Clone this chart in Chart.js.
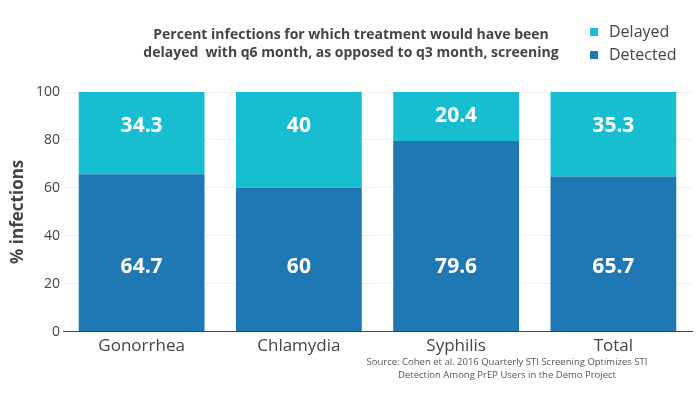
<!DOCTYPE html>
<html>
<head>
<meta charset="utf-8">
<script src="https://cdn.jsdelivr.net/npm/chart.js@4"></script>
<style>
  html, body { margin: 0; padding: 0; background: #fff; }
  #wrap { width: 700px; height: 393px; position: relative; }
</style>
</head>
<body>
<div id="wrap"><canvas id="chart" width="700" height="393"></canvas></div>
<script>
const categories = ["Gonorrhea", "Chlamydia", "Syphilis", "Total"];
// bar heights as drawn in the picture
const detected = [65.7, 60, 79.6, 64.7];
const delayed = [34.3, 40, 20.4, 35.3];
// printed numbers (the source shows these, swapped for two of the bars)
const detectedText = ["64.7", "60", "79.6", "65.7"];
const delayedText = ["34.3", "40", "20.4", "35.3"];
const yTicks = [0, 20, 40, 60, 80, 100];

const titleLines = [
  "Percent infections for which treatment would have been",
  "delayed  with q6 month, as opposed to q3 month, screening"
];
const sourceLines = [
  "Source: Cohen et al. 2016 Quarterly STI Screening Optimizes STI",
  "Detection Among PrEP Users in the Demo Project"
];

const FONT = "'Open Sans', sans-serif";

// title, legend, source note and bar labels
const extras = {
  id: 'extras',
  afterDatasetsDraw(chart) {
    const ctx = chart.ctx;
    const yScale = chart.scales.y;
    ctx.save();
    ctx.fillStyle = '#fff';
    ctx.font = "bold 21px " + FONT;
    ctx.textAlign = 'center';
    ctx.textBaseline = 'middle';
    const texts = [detectedText, delayedText];
    chart.data.datasets.forEach((ds, i) => {
      chart.getDatasetMeta(i).data.forEach((bar, j) => {
        let y;
        if (i === 0) {
          y = yScale.getPixelForValue(27);
        } else {
          const mid = (Math.max(bar.y, chart.chartArea.top) + bar.base) / 2;
          y = Math.min(mid, yScale.getPixelForValue(86));
        }
        ctx.fillText(texts[i][j], bar.x, y);
      });
    });
    ctx.restore();
  },
  afterDraw(chart) {
    const ctx = chart.ctx;
    ctx.save();
    ctx.fillStyle = '#444';
    ctx.font = "bold 14px " + FONT;
    ctx.textAlign = 'center';
    ctx.textBaseline = 'middle';
    ctx.fillText(titleLines[0], 351, 35);
    ctx.fillText(titleLines[1], 351, 53);

    // legend, top dataset first
    ctx.font = "16px " + FONT;
    ctx.textAlign = 'left';
    const order = [1, 0];
    order.forEach((di, k) => {
      const ds = chart.data.datasets[di];
      const y = 32 + k * 23;
      ctx.fillStyle = ds.backgroundColor;
      ctx.fillRect(590, y - 4, 8, 8);
      ctx.fillStyle = '#444';
      ctx.fillText(ds.label, 609, y);
    });

    ctx.font = "9.5px " + FONT;
    ctx.textAlign = 'center';
    ctx.fillStyle = '#555';
    ctx.fillText(sourceLines[0], 507, 362);
    ctx.fillText(sourceLines[1], 507, 375);
    ctx.restore();
  }
};

new Chart(document.getElementById('chart'), {
  type: 'bar',
  data: {
    labels: categories,
    datasets: [
      { label: 'Detected', data: detected, backgroundColor: '#1f77b4' },
      { label: 'Delayed', data: delayed, backgroundColor: '#17becf' }
    ]
  },
  options: {
    responsive: false,
    animation: false,
    layout: { padding: { top: 92, right: 8, bottom: 33, left: 0 } },
    datasets: { bar: { barPercentage: 0.8, categoryPercentage: 1 } },
    plugins: {
      legend: { display: false },
      tooltip: { enabled: false }
    },
    scales: {
      x: {
        stacked: true,
        grid: { display: false, drawTicks: false },
        border: { display: true, color: '#444', width: 1 },
        ticks: { color: '#444', font: { family: FONT, size: 17 }, padding: 4 }
      },
      y: {
        stacked: true,
        min: 0,
        max: 100,
        afterBuildTicks(axis) { axis.ticks = yTicks.map(v => ({ value: v })); },
        afterFit(axis) { axis.width = 63; },
        grid: { color: '#eee', drawTicks: false },
        border: { display: false },
        ticks: { color: '#444', font: { family: FONT, size: 14 }, padding: 3 },
        title: {
          display: true,
          text: '% infections',
          color: '#444',
          font: { family: FONT, size: 17, weight: 'bold' },
          padding: { top: 8, bottom: 4 }
        }
      }
    }
  },
  plugins: [extras]
});
</script>
</body>
</html>
